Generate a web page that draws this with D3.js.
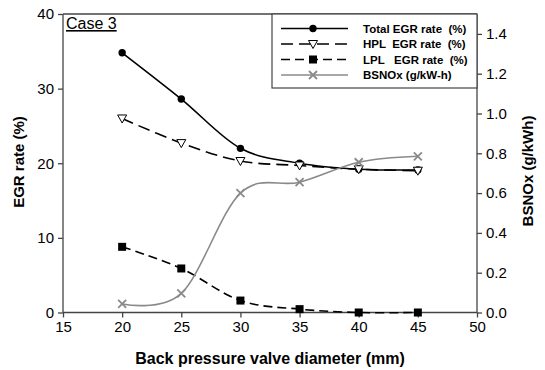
<!DOCTYPE html>
<html>
<head>
<meta charset="utf-8">
<script src="https://d3js.org/d3.v7.min.js"></script>
<style>
    body { margin: 0; background: #fff; }
    text { font-family: Arial, "Liberation Sans", sans-serif; fill: #000; }
</style>
</head>
<body>
<script>
    const diameter = [20, 25, 30, 35, 40, 45];
    const totalEgr = [34.8, 28.6, 22.0, 20.0, 19.2, 19.1];
    const hplEgr = [26.0, 22.7, 20.3, 19.7, 19.2, 19.0];
    const lplEgr = [8.8, 5.9, 1.6, 0.45, 0.0, 0.0];
    const bsnox = [0.043, 0.096, 0.60, 0.655, 0.755, 0.785];
    const xTicks = [15, 20, 25, 30, 35, 40, 45, 50];
    const yTicks = [0, 10, 20, 30, 40];
    const y2Ticks = [0.0, 0.2, 0.4, 0.6, 0.8, 1.0, 1.2, 1.4];
    const legendLabels = ["Total EGR rate  (%)", "HPL  EGR rate  (%)", "LPL   EGR rate  (%)", "BSNOx (g/kW-h)"];

    const width = 545, height = 370;
    const plotLeft = 63, plotRight = 477, plotTop = 14, plotBottom = 312.5;

    const svg = d3.select("body").append("svg")
        .attr("width", width).attr("height", height);

    const x = d3.scaleLinear().domain([15, 50]).range([plotLeft, plotRight]);
    const y = d3.scaleLinear().domain([0, 40]).range([plotBottom, plotTop]);
    const y2 = d3.scaleLinear().domain([0, 1.5]).range([plotBottom, plotTop]);

    // axes
    const xAxis = svg.append("g").attr("transform", "translate(0," + plotBottom + ")")
        .call(d3.axisBottom(x).tickValues(xTicks).tickSize(5).tickPadding(4));
    const yAxis = svg.append("g").attr("transform", "translate(" + plotLeft + ",0)")
        .call(d3.axisLeft(y).tickValues(yTicks).tickSize(5).tickPadding(4));
    const y2Axis = svg.append("g").attr("transform", "translate(" + plotRight + ",0)")
        .call(d3.axisRight(y2).tickValues(y2Ticks).tickFormat(d3.format(".1f")).tickSize(5).tickPadding(4));

    [xAxis, yAxis, y2Axis].forEach(function(g) {
        g.selectAll("path").attr("stroke", "#444").attr("stroke-width", 1.3);
        g.selectAll("line").attr("stroke", "#444").attr("stroke-width", 1.3);
        g.selectAll("text").style("font-size", "15px").attr("fill", "#000");
    });
    // plain axis lines, no outer ticks
    xAxis.select(".domain").attr("d", "M" + plotLeft + ",0H" + plotRight);
    yAxis.select(".domain").attr("d", "M0," + plotBottom + "V" + plotTop);
    y2Axis.select(".domain").attr("d", "M0," + plotBottom + "V" + plotTop);

    // top border of the plot frame
    svg.append("line")
        .attr("x1", plotLeft).attr("x2", plotRight).attr("y1", plotTop).attr("y2", plotTop)
        .attr("stroke", "#444").attr("stroke-width", 1.3);

    // axis titles
    svg.append("text")
        .attr("x", (plotLeft + plotRight) / 2).attr("y", 364)
        .attr("text-anchor", "middle")
        .style("font-size", "16px").style("font-weight", "bold")
        .text("Back pressure valve diameter (mm)");
    svg.append("text")
        .attr("transform", "translate(24,162) rotate(-90)")
        .attr("text-anchor", "middle")
        .style("font-size", "15px").style("font-weight", "bold")
        .text("EGR rate (%)");
    svg.append("text")
        .attr("transform", "translate(533,171) rotate(-90)")
        .attr("text-anchor", "middle")
        .style("font-size", "15px").style("font-weight", "bold")
        .text("BSNOx (g/kWh)");

    // case label
    svg.append("text")
        .attr("x", 66).attr("y", 29)
        .style("font-size", "16px").style("text-decoration", "underline")
        .text("Case 3");

    const series = [
        { values: totalEgr, scale: y, color: "#000", dash: null, marker: "circle" },
        { values: hplEgr, scale: y, color: "#000", dash: "12,6", marker: "triangle" },
        { values: lplEgr, scale: y, color: "#000", dash: "9,5", marker: "square" },
        { values: bsnox, scale: y2, color: "#8a8a8a", dash: null, marker: "cross" }
    ];

    function drawMarker(g, type, cx, cy, color) {
        if (type === "circle") {
            g.append("circle").attr("cx", cx).attr("cy", cy).attr("r", 3.7).attr("fill", color);
        } else if (type === "triangle") {
            g.append("path")
                .attr("d", "M" + (cx - 4.5) + "," + (cy - 3.5) + "L" + (cx + 4.5) + "," + (cy - 3.5) + "L" + cx + "," + (cy + 4.5) + "Z")
                .attr("fill", "#fff").attr("stroke", color).attr("stroke-width", 1);
        } else if (type === "square") {
            g.append("rect").attr("x", cx - 4).attr("y", cy - 4).attr("width", 8).attr("height", 8).attr("fill", color);
        } else {
            g.append("path")
                .attr("d", "M" + (cx - 4) + "," + (cy - 4) + "L" + (cx + 4) + "," + (cy + 4) + "M" + (cx - 4) + "," + (cy + 4) + "L" + (cx + 4) + "," + (cy - 4))
                .attr("stroke", color).attr("stroke-width", 1.8);
        }
    }

    const plot = svg.append("g");
    series.forEach(function(s) {
        const line = d3.line()
            .x(function(d, i) { return x(diameter[i]); })
            .y(function(d) { return s.scale(d); })
            .curve(d3.curveCardinal.tension(0));
        plot.append("path")
            .attr("d", line(s.values))
            .attr("fill", "none")
            .attr("stroke", s.color)
            .attr("stroke-width", 1.6)
            .attr("stroke-dasharray", s.dash);
    });
    series.forEach(function(s) {
        s.values.forEach(function(v, i) {
            drawMarker(plot, s.marker, x(diameter[i]), s.scale(v), s.color);
        });
    });

    // legend
    const lg = svg.append("g");
    lg.append("rect")
        .attr("x", 272).attr("y", plotTop).attr("width", plotRight - 272).attr("height", 74)
        .attr("fill", "#fff").attr("stroke", "#444").attr("stroke-width", 1.2);
    const rowY = [28.5, 44, 59.5, 75];
    series.forEach(function(s, i) {
        lg.append("line")
            .attr("x1", 281).attr("x2", 348).attr("y1", rowY[i]).attr("y2", rowY[i])
            .attr("stroke", s.color).attr("stroke-width", 1.6)
            .attr("stroke-dasharray", s.dash);
        drawMarker(lg, s.marker, 313, rowY[i], s.color);
        lg.append("text")
            .attr("x", 363).attr("y", rowY[i] + 4)
            .style("font-size", "11.5px").style("font-weight", "bold")
            .style("white-space", "pre")
            .text(legendLabels[i]);
    });
</script>
</body>
</html>
